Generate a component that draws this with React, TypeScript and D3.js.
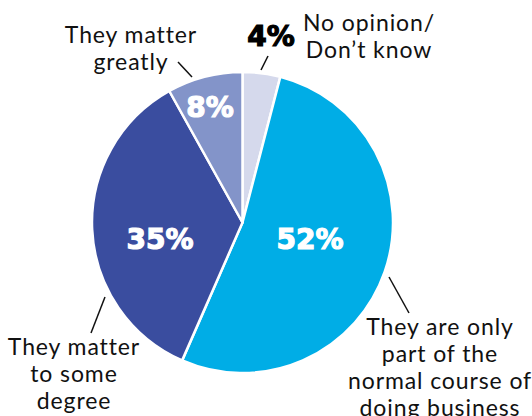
import React from "react";
import * as d3 from "d3";

const categories = [
  "No opinion/ Don't know",
  "They are only part of the normal course of doing business",
  "They matter to some degree",
  "They matter greatly",
];
const values = [4, 52, 35, 8];
const colors = ["#d5d9ec", "#00ade6", "#3a4d9f", "#8394c9"];

const W = 532;
const H = 416;
const cx = 242.5;
const cy = 222.5;
const R = 150.5;

const pctFont = "'DejaVu Sans', sans-serif";
const labelFont = "Lato, 'Open Sans', sans-serif";

export default function App() {
  const pie = d3.pie<number>().sort(null).value((d) => d)(values);
  const arc = d3.arc<d3.PieArcDatum<number>>().innerRadius(0).outerRadius(R);

  const pctPos = [
    { x: 271, y: 46, fill: "#000" },
    { x: 310, y: 249, fill: "#fff" },
    { x: 160, y: 249, fill: "#fff" },
    { x: 210, y: 117, fill: "#fff" },
  ];

  const lineH = 27;
  const labels = [
    { lines: ["No opinion/", "Don\u2019t know"], x: 369, y: 31 },
    { lines: ["They are only", "part of the", "normal course of", "doing business"], x: 440, y: 335 },
    { lines: ["They matter", "to some", "degree"], x: 74, y: 355 },
    { lines: ["They matter", "greatly"], x: 131, y: 43 },
  ];

  const leaders = [
    [268, 56, 261, 70],
    [389, 277, 409, 313],
    [105, 297, 91, 333],
    [178, 62, 192, 77],
  ];

  return (
    <svg width={W} height={H} style={{ position: "absolute", left: 0, top: 0 }}>
      <rect width={W} height={H} fill="#fff" />
      <g transform={`translate(${cx},${cy})`}>
        {pie.map((d, i) => (
          <path key={i} d={arc(d) || ""} fill={colors[i]} stroke="#fff" strokeWidth={2.5} strokeLinejoin="round" />
        ))}
      </g>
      {pie.map((d, i) => (
        <text
          key={"p" + i}
          x={pctPos[i].x}
          y={pctPos[i].y}
          textAnchor="middle"
          fontFamily={pctFont}
          fontWeight={700}
          fontSize={28}
          fill={pctPos[i].fill}
          stroke={pctPos[i].fill}
          strokeWidth={1.2}
        >
          {values[i]}%
        </text>
      ))}
      {leaders.map((l, i) => (
        <line key={"l" + i} x1={l[0]} y1={l[1]} x2={l[2]} y2={l[3]} stroke="#111" strokeWidth={1.5} />
      ))}
      {labels.map((lb, i) => (
        <text
          key={"t" + i}
          textAnchor="middle"
          fontFamily={labelFont}
          fontSize={23}
          letterSpacing={0.9}
          fill="#111"
        >
          {lb.lines.map((ln, j) => (
            <tspan key={j} x={lb.x} y={lb.y + j * lineH}>
              {ln}
            </tspan>
          ))}
        </text>
      ))}
    </svg>
  );
}
